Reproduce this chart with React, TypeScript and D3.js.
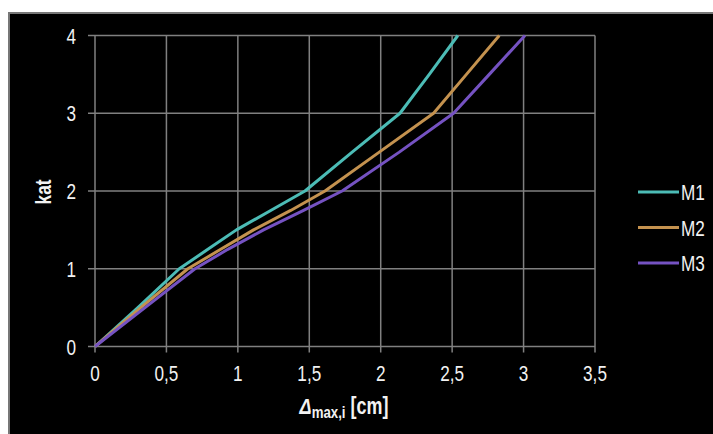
import React from "react";
import * as d3 from "d3";

const seriesNames = ["M1", "M2", "M3"];
const seriesColors = ["#4cbcb6", "#c4924f", "#7552c2"];
// displacement [cm] at storey level (kat)
const katLevels = [0, 0.5, 1, 1.25, 1.5, 1.75, 2, 2.5, 3, 3.5, 4];
const m1Disp = [0, 0.3, 0.59, 0.79, 0.99, 1.23, 1.47, 1.8, 2.135, 2.34, 2.54];
const m2Disp = [0, 0.32, 0.65, 0.88, 1.11, 1.37, 1.61, 1.99, 2.37, 2.6, 2.83];
const m3Disp = [0, 0.35, 0.7, 0.93, 1.18, 1.46, 1.73, 2.13, 2.51, 2.76, 3.01];
const xTicks = [0, 0.5, 1, 1.5, 2, 2.5, 3, 3.5];
const yTicks = [0, 1, 2, 3, 4];

const seriesData = [m1Disp, m2Disp, m3Disp];

const W = 713;
const H = 434;
const FONT = "'Liberation Sans', Arial, sans-serif";
const NARROW = 0.78;

export default function App() {
  const x = d3.scaleLinear().domain([0, 3.5]).range([95, 595]);
  const y = d3.scaleLinear().domain([0, 4]).range([346.5, 35.5]);
  const line = d3
    .line<[number, number]>()
    .x((d) => x(d[0]))
    .y((d) => y(d[1]));

  const fmt = (v: number) => String(v).replace(".", ",");

  const NText = ({ tx, ty, anchor, size, weight, children }: any) => (
    <g transform={`translate(${tx},${ty}) scale(${NARROW},1)`}>
      <text
        x={0}
        y={0}
        textAnchor={anchor}
        fontSize={size}
        fontWeight={weight || "normal"}
        fill="#f2f2f2"
        fontFamily={FONT}
      >
        {children}
      </text>
    </g>
  );

  return (
    <svg
      width={W}
      height={H}
      style={{ position: "absolute", left: 0, top: 0, background: "#fff" }}
    >
      <rect x={9} y={13} width={W} height={H} fill="#000" stroke="#777" strokeWidth={2} />
      {/* grid */}
      {xTicks.map((t) => (
        <line key={"gx" + t} x1={x(t)} x2={x(t)} y1={y(4)} y2={y(0) + 6} stroke="#808080" strokeWidth={1.5} />
      ))}
      {yTicks.map((t) => (
        <line key={"gy" + t} x1={x(0) - 7} x2={x(3.5)} y1={y(t)} y2={y(t)} stroke="#808080" strokeWidth={1.5} />
      ))}
      {/* tick labels */}
      {yTicks.map((t) => (
        <NText key={"yl" + t} tx={76} ty={y(t) + 8} anchor="end" size={22}>
          {fmt(t)}
        </NText>
      ))}
      {xTicks.map((t) => (
        <NText key={"xl" + t} tx={x(t)} ty={381} anchor="middle" size={22}>
          {fmt(t)}
        </NText>
      ))}
      {/* series */}
      {seriesData.map((vals, i) => (
        <path
          key={seriesNames[i]}
          d={line(vals.map((v, j) => [v, katLevels[j]] as [number, number])) || ""}
          fill="none"
          stroke={seriesColors[i]}
          strokeWidth={3}
          strokeLinejoin="round"
        />
      ))}
      {/* legend */}
      {seriesNames.map((n, i) => (
        <g key={"lg" + n}>
          <line x1={638} x2={679} y1={192 + i * 35.5} y2={192 + i * 35.5} stroke={seriesColors[i]} strokeWidth={3} />
          <NText tx={681} ty={200 + i * 35.5} anchor="start" size={22}>
            {n}
          </NText>
        </g>
      ))}
      {/* axis titles */}
      <NText tx={344} ty={414} anchor="middle" size={23} weight="bold">
        <tspan fontStyle="italic">Δ</tspan>
        <tspan fontSize={17} dy={4}>max,i</tspan>
        <tspan dy={-4}> [cm]</tspan>
      </NText>
      <g transform={`translate(51,192) rotate(-90)`}>
        <NText tx={0} ty={0} anchor="middle" size={22} weight="bold">
          kat
        </NText>
      </g>
    </svg>
  );
}
